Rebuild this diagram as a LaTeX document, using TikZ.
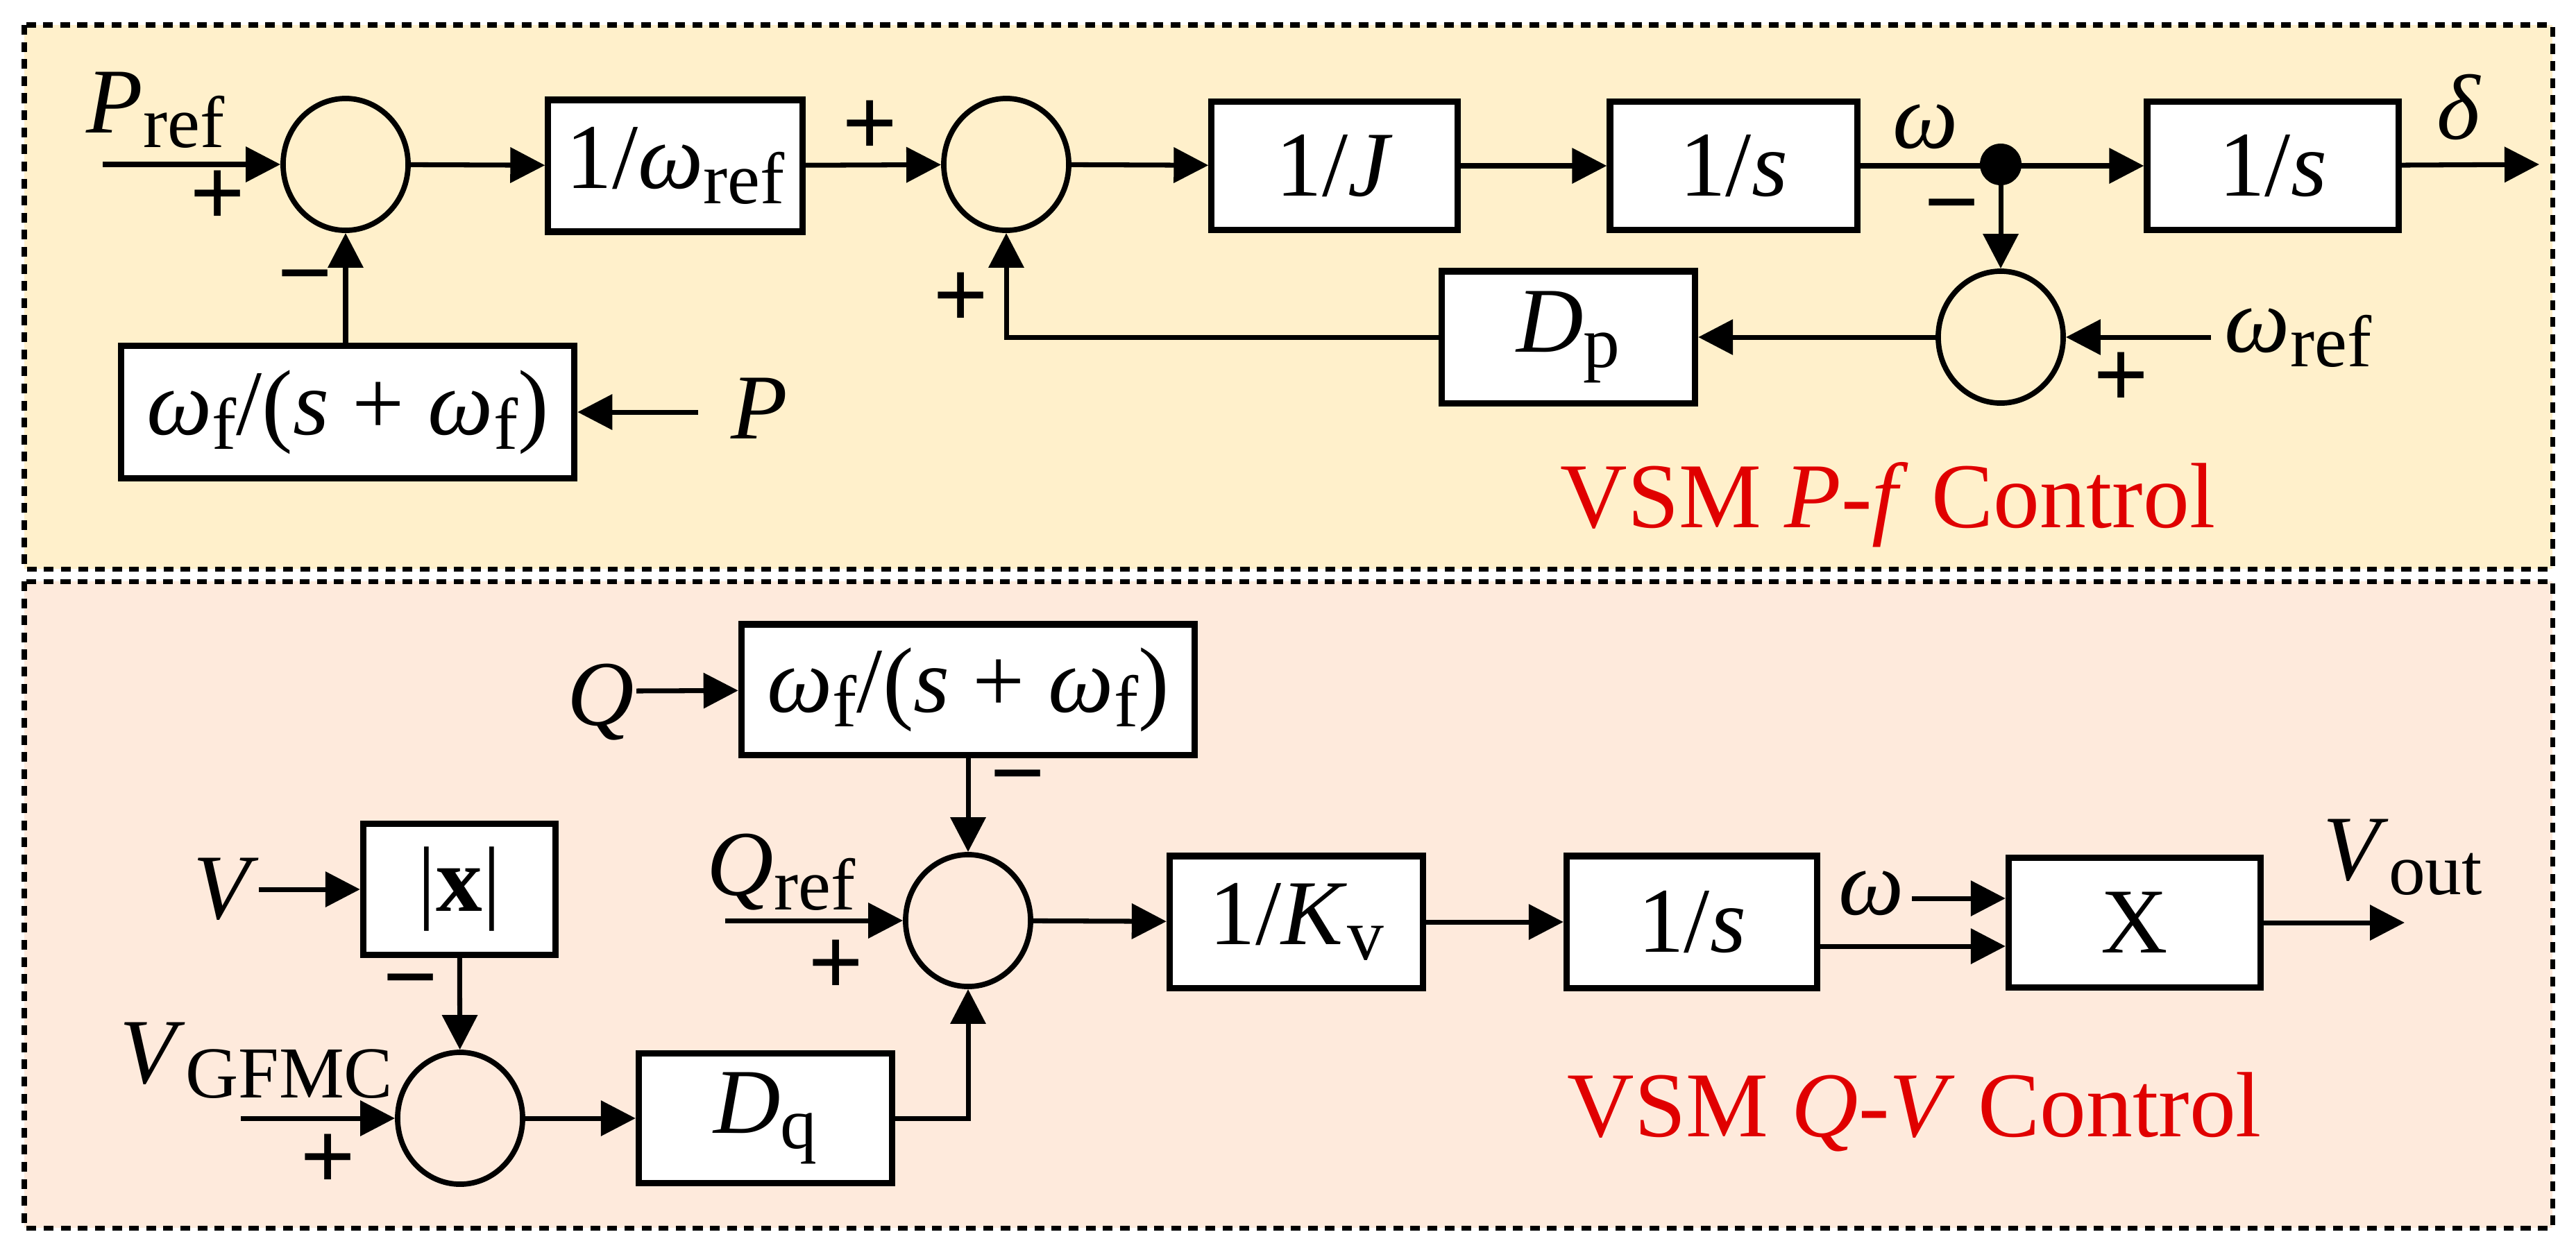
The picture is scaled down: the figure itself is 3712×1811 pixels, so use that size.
\documentclass[tikz,border=0pt]{standalone}
\usepackage{fontspec}
\setmainfont{Liberation Serif}
\newfontfamily\tmsfont{Liberation Serif}
\usetikzlibrary{shapes.geometric,arrows.meta}
\definecolor{topfill}{HTML}{FFF0CB}
\definecolor{botfill}{HTML}{FEEADC}
\definecolor{redtxt}{HTML}{E00000}
\newcommand\sbs[1]{\raisebox{-0.35ex}{\fontsize{30}{30}\selectfont #1}}
\newcommand\iv[1]{\textit{#1}}
\begin{document}
\begin{tikzpicture}[x=0.01cm,y=-0.01cm,
  every node/.style={font=\tmsfont\fontsize{38}{40}\selectfont},
  blk/.style={draw,fill=white,line width=2.6pt,inner sep=0pt},
  sum/.style={draw,ellipse,line width=2.2pt,minimum width=1.8cm,minimum height=1.9cm,inner sep=0pt},
  ar/.style={line width=2pt,-{Triangle[length=0.5cm,width=0.5cm]}},
  sg/.style={font=\tmsfont\fontsize{40}{40}\selectfont\bfseries,inner sep=0pt},
  lb/.style={anchor=base west,inner sep=0pt},
  panel/.style={draw,line width=2pt,dash pattern=on 4pt off 3pt}]
\useasboundingbox (0,0) rectangle (3712,1811);
\path[panel,fill=topfill] (35,36) rectangle (3678,820);
\path[panel,fill=botfill] (35,838) rectangle (3678,1770);
% ---------- top ----------
\node[sum] (S1) at (498,237) {};
\node[blk,minimum width=3.66cm,minimum height=1.9cm] (B1) at (973,239) {1/\iv{ω}\sbs{ref}};
\node[sum] (S2) at (1450,237) {};
\node[blk,minimum width=3.54cm,minimum height=1.85cm] (BJ) at (1923,239) {1/\iv{J}};
\node[blk,minimum width=3.56cm,minimum height=1.85cm] (BS1) at (2498,239) {1/\iv{s}};
\node[blk,minimum width=3.62cm,minimum height=1.85cm] (BS2) at (3275,239) {1/\iv{s}};
\node[sum] (S3) at (2883,486) {};
\node[blk,minimum width=3.65cm,minimum height=1.9cm] (Dp) at (2260,486) {\iv{D}\sbs{p}};
\node[blk,minimum width=6.53cm,minimum height=1.91cm] (WF1) at (501,594) {\iv{ω}\sbs{f}/(\iv{s} + \iv{ω}\sbs{f})};
\fill (2883,237) circle (0.3cm) coordinate (dot);
\coordinate (pin) at (148,237);
\coordinate (dout) at (3659,237);
\coordinate (win) at (3186,486);
\coordinate (pinP) at (1006,594);
\coordinate (fb) at (1450,486);
\node[lb] (lPref) at (124,191) {\iv{P}\sbs{ref}};
\node[lb] (lw1) at (2727,213) {\iv{ω}};
\node[lb] (ldelta) at (3511,200) {\iv{δ}};
\node[lb] (lwref) at (3205,507) {\iv{ω}\sbs{ref}};
\node[lb] (lP) at (1053,632) {\iv{P}};
\draw[ar] (pin) -- (S1);
\draw[ar] (S1) -- (B1);
\draw[ar] (B1) -- (S2);
\draw[ar] (S2) -- (BJ);
\draw[ar] (BJ) -- (BS1);
\draw[ar] (BS1) -- (BS2);
\draw[ar] (BS2) -- (dout);
\draw[ar] (dot) -- (S3);
\draw[ar] (win) -- (S3);
\draw[ar] (S3) -- (Dp);
\draw[ar] (Dp.west) -- (fb) -- (S2);
\draw[ar] (WF1.north -| S1) -- (S1);
\draw[ar] (pinP) -- (WF1);
\node[sg] (p1) at (314,286) {+};
\node[sg] (m1) at (440,415) {−};
\node[sg] (p2) at (1254,185) {+};
\node[sg] (p3) at (1385,433) {+};
\node[sg] (m2) at (2813,313) {−};
\node[sg] (p4) at (3057,548) {+};
\node[lb,text=redtxt] (t1) at (2248,760) {VSM \iv{P}-\iv{f} Control};
% ---------- bottom ----------
\node[blk,minimum width=6.53cm,minimum height=1.88cm] (WF2) at (1395,994) {\iv{ω}\sbs{f}/(\iv{s} + \iv{ω}\sbs{f})};
\node[sum] (S4) at (1395,1327) {};
\node[blk,minimum width=3.65cm,minimum height=1.9cm] (Kv) at (1868,1329) {1/\iv{K}\sbs{v}};
\node[blk,minimum width=3.61cm,minimum height=1.9cm] (BS3) at (2438,1329) {1/\iv{s}};
\node[blk,minimum width=3.63cm,minimum height=1.87cm] (BX) at (3076,1330) {X};
\node[blk,minimum width=2.77cm,minimum height=1.89cm] (Abs) at (662,1282) {|\textbf{x}|};
\node[sum] (S5) at (663,1612) {};
\node[blk,minimum width=3.65cm,minimum height=1.87cm] (Dq) at (1103,1612) {\iv{D}\sbs{q}};
\coordinate (qin) at (917,996);
\coordinate (qrin) at (1045,1327);
\coordinate (win2) at (2755,1295);
\coordinate (vout) at (3465,1330);
\coordinate (vin) at (373,1282);
\coordinate (vgin) at (347,1612);
\node[lb] (lQ) at (817,1045) {\iv{Q}};
\node[lb] (lQr) at (1018,1290) {\iv{Q}\sbs{ref}};
\node[lb] (lw2) at (2649,1318) {\iv{ω}};
\node[lb] (lVout) at (3347,1268) {\iv{V}\sbs{out}};
\node[lb] (lV) at (278,1324) {\iv{V}};
\node[lb] (lVg) at (172,1561) {\iv{V}\sbs{GFMC}};
\draw[ar] (qin) -- (WF2);
\draw[ar] (WF2) -- (S4);
\draw[ar] (qrin) -- (S4);
\draw[ar] (S4) -- (Kv);
\draw[ar] (Kv) -- (BS3);
\draw[ar] (win2) -- (win2 -| BX.west);
\draw[ar] (BS3.east |- 0,1364) -- (BX.west |- 0,1364);
\draw[ar] (BX) -- (vout);
\draw[ar] (vin) -- (Abs);
\draw[ar] (Abs) -- (S5);
\draw[ar] (vgin) -- (S5);
\draw[ar] (S5) -- (Dq);
\draw[ar] (Dq.east) -| (S4);
\node[sg] (m3) at (1467,1136) {−};
\node[sg] (p5) at (1205,1395) {+};
\node[sg] (m4) at (592,1430) {−};
\node[sg] (p6) at (473,1675) {+};
\node[lb,text=redtxt] (t2) at (2258,1638) {VSM \iv{Q}-\iv{V} Control};
\end{tikzpicture}
\end{document}
